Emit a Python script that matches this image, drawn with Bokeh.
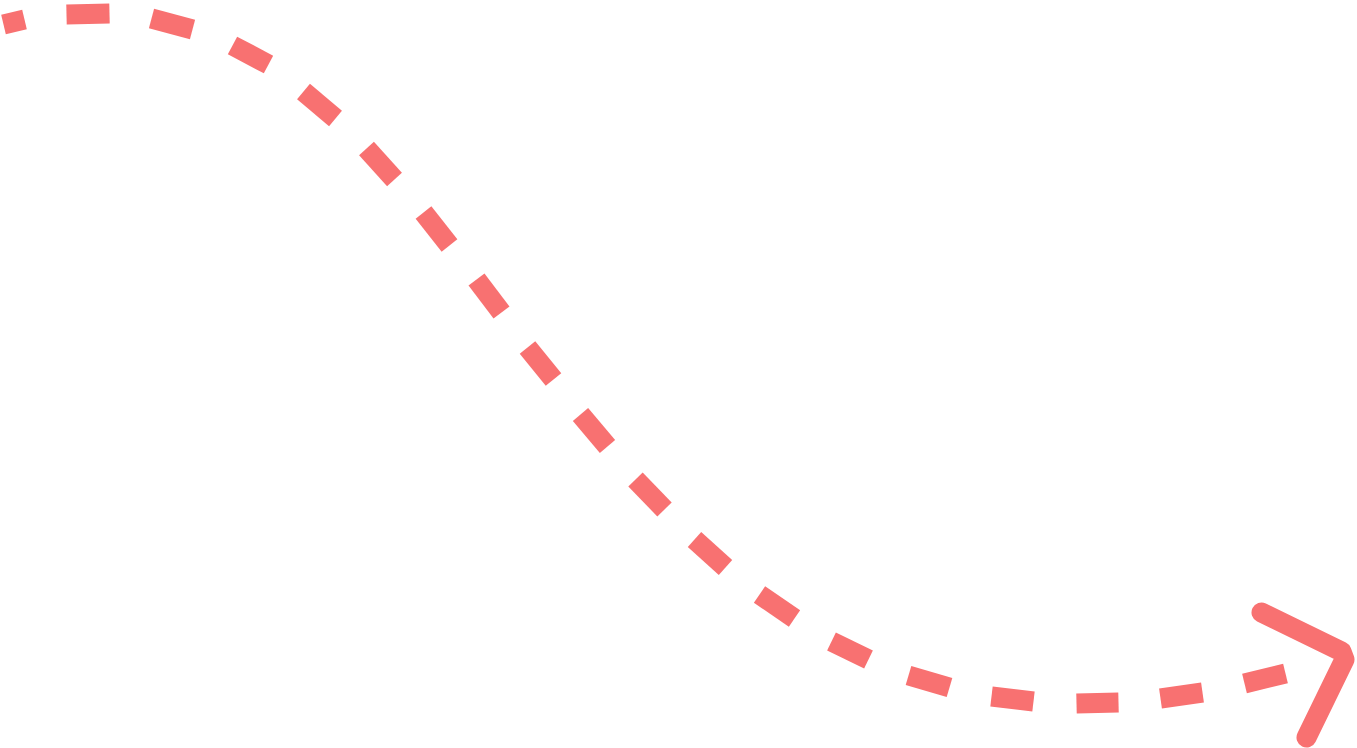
from bokeh.plotting import figure
from bokeh.models import Range1d
from bokeh.embed import file_html
from bokeh.resources import INLINE

# Dashed S-curve: each dash as (start -> end), in order along the curve
dash_start_x = [3, 66, 151, 232, 303, 366, 423, 476, 527, 580, 635, 694, 759, 831, 908, 991, 1076, 1160, 1244]
dash_start_y = [24, 14, 18, 45, 91, 148, 212, 279, 347, 414, 479, 539, 594, 641, 675, 696, 703, 698, 683]
dash_end_x = [24, 109, 192, 268, 335, 394, 449, 501, 553, 607, 664, 725, 794, 868, 949, 1033, 1118, 1202, 1285]
dash_end_y = [19, 13, 29, 64, 118, 179, 245, 312, 379, 446, 509, 567, 618, 659, 687, 701, 702, 692, 673]

# Arrow head polyline
arrow_x = [1261, 1341, 1344, 1306]
arrow_y = [612, 651, 659, 737]

COLOR = "#F87171"

p = figure(width=1357, height=748, output_backend="svg", toolbar_location=None,
           x_range=Range1d(0, 1357), y_range=Range1d(748, 0),
           min_border=0, x_axis_location=None, y_axis_location=None,
           background_fill_color="white", border_fill_color="white")
p.outline_line_color = None
p.grid.visible = False

p.segment(x0=dash_start_x, y0=dash_start_y, x1=dash_end_x, y1=dash_end_y,
          line_color=COLOR, line_width=20, line_cap="butt")
p.line(arrow_x, arrow_y, line_color=COLOR, line_width=20, line_cap="round", line_join="round")

open("out.html", "w").write(file_html(p, INLINE))
